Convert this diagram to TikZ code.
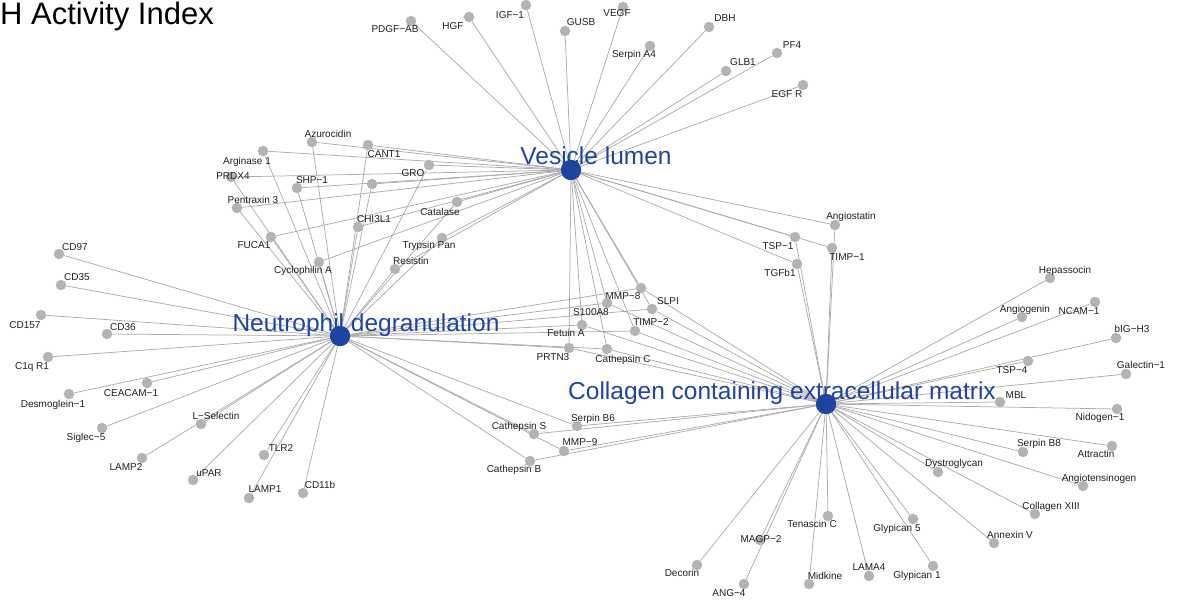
\documentclass[tikz,border=0pt]{standalone}
\usepackage{fontspec}
\setmainfont{Liberation Sans}
\usetikzlibrary{backgrounds}
\definecolor{hubblue}{RGB}{31,68,160}
\definecolor{leafgray}{RGB}{179,179,179}
\definecolor{edgegray}{RGB}{172,172,172}

\begin{document}
\begin{tikzpicture}[x=1pt,y=-1pt,
    hub/.style={circle, fill=hubblue, inner sep=0pt, minimum size=20.5pt},
    leaf/.style={circle, fill=leafgray, inner sep=0pt, minimum size=10.5pt},
    lbl/.style={inner sep=0pt, text=black!88, font=\fontsize{10}{12}\selectfont, text height=7.2pt, text depth=0pt},
    hublbl/.style={inner sep=0pt, text=hubblue, font=\fontsize{24.5}{28}\selectfont, text height=17.5pt, text depth=0pt},
    edge/.style={draw=edgegray, line width=0.75pt}]
      \useasboundingbox (0,0) rectangle (1179,602);

      \node[anchor=base west, inner sep=0pt, font=\fontsize{31}{36}\selectfont] (title) at (0,25) {H Activity Index};

      % the three terms
      \node[hub] (vl) at (571,170) {};
      \node[hub] (nd) at (340,336) {};
      \node[hub] (cc) at (826,404) {};

      % vesicle lumen only
      \node[leaf] (pdgfab) at (411,21) {};  \node[lbl] (pdgfab-l) at (395,29) {PDGF−AB};
      \node[leaf] (hgf) at (469,17) {};     \node[lbl] (hgf-l) at (453,26) {HGF};
      \node[leaf] (igf1) at (526,5) {};     \node[lbl] (igf1-l) at (510,15) {IGF−1};
      \node[leaf] (gusb) at (565,31) {};    \node[lbl] (gusb-l) at (581,22) {GUSB};
      \node[leaf] (vegf) at (623,7) {};     \node[lbl] (vegf-l) at (617,13) {VEGF};
      \node[leaf] (serpa4) at (650,46) {};  \node[lbl] (serpa4-l) at (634,54) {Serpin A4};
      \node[leaf] (dbh) at (709,27) {};     \node[lbl] (dbh-l) at (725,18) {DBH};
      \node[leaf] (glb1) at (726,71) {};    \node[lbl] (glb1-l) at (743,62) {GLB1};
      \node[leaf] (pf4) at (777,53) {};     \node[lbl] (pf4-l) at (792,45) {PF4};
      \node[leaf] (egfr) at (803,85) {};    \node[lbl] (egfr-l) at (787,94) {EGF R};

      % vesicle lumen + neutrophil
      \node[leaf] (arg1) at (263,151) {};   \node[lbl] (arg1-l) at (247,161) {Arginase 1};
      \node[leaf] (prdx4) at (231,177) {};  \node[lbl] (prdx4-l) at (233,176) {PRDX4};
      \node[leaf] (shp1) at (297,188) {};   \node[lbl] (shp1-l) at (312,180) {SHP−1};
      \node[leaf] (unl) at (372,184) {};
      \node[leaf] (ptx3) at (237,208) {};   \node[lbl] (ptx3-l) at (253,200) {Pentraxin 3};
      \node[leaf] (azu) at (312,142) {};    \node[lbl] (azu-l) at (328,134) {Azurocidin};
      \node[leaf] (cant1) at (368,145) {};  \node[lbl] (cant1-l) at (384,154) {CANT1};
      \node[leaf] (gro) at (429,165) {};    \node[lbl] (gro-l) at (413,173) {GRO};
      \node[leaf] (cat) at (457,202) {};    \node[lbl] (cat-l) at (440,212) {Catalase};
      \node[leaf] (chi3l1) at (358,227) {}; \node[lbl] (chi3l1-l) at (374,219) {CHI3L1};
      \node[leaf] (tryp) at (442,238) {};   \node[lbl] (tryp-l) at (429,245) {Trypsin Pan};
      \node[leaf] (fuca1) at (271,237) {};  \node[lbl] (fuca1-l) at (254,245) {FUCA1};
      \node[leaf] (cyca) at (319,262) {};   \node[lbl] (cyca-l) at (303,270) {Cyclophilin A};
      \node[leaf] (resist) at (395,269) {}; \node[lbl] (resist-l) at (411,261) {Resistin};

      % neutrophil only
      \node[leaf] (cd97) at (59,254) {};    \node[lbl] (cd97-l) at (75,247) {CD97};
      \node[leaf] (cd35) at (61,285) {};    \node[lbl] (cd35-l) at (77,277) {CD35};
      \node[leaf] (cd157) at (41,315) {};   \node[lbl] (cd157-l) at (25,325) {CD157};
      \node[leaf] (cd36) at (107,334) {};   \node[lbl] (cd36-l) at (123,327) {CD36};
      \node[leaf] (c1qr1) at (48,357) {};   \node[lbl] (c1qr1-l) at (32,366) {C1q R1};
      \node[leaf] (ceacam) at (147,383) {}; \node[lbl] (ceacam-l) at (131,393) {CEACAM−1};
      \node[leaf] (dsg1) at (69,394) {};    \node[lbl] (dsg1-l) at (53,404) {Desmoglein−1};
      \node[leaf] (siglec) at (102,428) {}; \node[lbl] (siglec-l) at (86,437) {Siglec−5};
      \node[leaf] (lsel) at (201,424) {};   \node[lbl] (lsel-l) at (216,416) {L−Selectin};
      \node[leaf] (lamp2) at (142,458) {};  \node[lbl] (lamp2-l) at (126,467) {LAMP2};
      \node[leaf] (upar) at (193,480) {};   \node[lbl] (upar-l) at (209,473) {uPAR};
      \node[leaf] (tlr2) at (264,455) {};   \node[lbl] (tlr2-l) at (281,448) {TLR2};
      \node[leaf] (lamp1) at (249,498) {};  \node[lbl] (lamp1-l) at (265,489) {LAMP1};
      \node[leaf] (cd11b) at (303,493) {};  \node[lbl] (cd11b-l) at (320,485) {CD11b};

      % all three terms
      \node[leaf] (mmp8) at (641,288) {};   \node[lbl] (mmp8-l) at (623,296) {MMP−8};
      \node[leaf] (slpi) at (652,309) {};   \node[lbl] (slpi-l) at (668,301) {SLPI};
      \node[leaf] (s100a8) at (607,303) {}; \node[lbl] (s100a8-l) at (591,312) {S100A8};
      \node[leaf] (fetua) at (582,325) {};  \node[lbl] (fetua-l) at (566,333) {Fetuin A};
      \node[leaf] (timp2) at (635,331) {};  \node[lbl] (timp2-l) at (651,322) {TIMP−2};
      \node[leaf] (prtn3) at (569,348) {};  \node[lbl] (prtn3-l) at (553,357) {PRTN3};
      \node[leaf] (cathc) at (607,349) {};  \node[lbl] (cathc-l) at (623,359) {Cathepsin C};

      % neutrophil + collagen
      \node[leaf] (caths) at (534,434) {};  \node[lbl] (caths-l) at (519,426) {Cathepsin S};
      \node[leaf] (serpb6) at (577,426) {}; \node[lbl] (serpb6-l) at (593,418) {Serpin B6};
      \node[leaf] (mmp9) at (564,451) {};   \node[lbl] (mmp9-l) at (580,442) {MMP−9};
      \node[leaf] (cathb) at (530,461) {};  \node[lbl] (cathb-l) at (514,469) {Cathepsin B};

      % vesicle lumen + collagen
      \node[leaf] (angst) at (835,225) {};  \node[lbl] (angst-l) at (851,216) {Angiostatin};
      \node[leaf] (tsp1) at (795,237) {};   \node[lbl] (tsp1-l) at (778,246) {TSP−1};
      \node[leaf] (timp1) at (832,248) {};  \node[lbl] (timp1-l) at (847,257) {TIMP−1};
      \node[leaf] (tgfb1) at (797,264) {};  \node[lbl] (tgfb1-l) at (780,273) {TGFb1};

      % collagen only
      \node[leaf] (hepas) at (1050,278) {}; \node[lbl] (hepas-l) at (1065,270) {Hepassocin};
      \node[leaf] (angio) at (1022,317) {}; \node[lbl] (angio-l) at (1025,309) {Angiogenin};
      \node[leaf] (ncam1) at (1095,302) {}; \node[lbl] (ncam1-l) at (1079,311) {NCAM−1};
      \node[leaf] (bigh3) at (1116,338) {}; \node[lbl] (bigh3-l) at (1132,329) {bIG−H3};
      \node[leaf] (tsp4) at (1028,361) {};  \node[lbl] (tsp4-l) at (1012,370) {TSP−4};
      \node[leaf] (gal1) at (1126,374) {};  \node[lbl] (gal1-l) at (1141,365) {Galectin−1};
      \node[leaf] (mbl) at (1000,402) {};   \node[lbl] (mbl-l) at (1016,395) {MBL};
      \node[leaf] (nid1) at (1117,409) {};  \node[lbl] (nid1-l) at (1100,417) {Nidogen−1};
      \node[leaf] (attr) at (1112,446) {};  \node[lbl] (attr-l) at (1096,454) {Attractin};
      \node[leaf] (serpb8) at (1023,452) {};\node[lbl] (serpb8-l) at (1039,443) {Serpin B8};
      \node[leaf] (dag1) at (938,472) {};   \node[lbl] (dag1-l) at (954,463) {Dystroglycan};
      \node[leaf] (agt) at (1083,486) {};   \node[lbl] (agt-l) at (1099,478) {Angiotensinogen};
      \node[leaf] (col13) at (1035,514) {}; \node[lbl] (col13-l) at (1051,506) {Collagen XIII};
      \node[leaf] (anxa5) at (994,543) {};  \node[lbl] (anxa5-l) at (1010,535) {Annexin V};
      \node[leaf] (gpc5) at (913,519) {};   \node[lbl] (gpc5-l) at (897,528) {Glypican 5};
      \node[leaf] (gpc1) at (933,566) {};   \node[lbl] (gpc1-l) at (917,575) {Glypican 1};
      \node[leaf] (lama4) at (869,576) {};  \node[lbl] (lama4-l) at (869,567) {LAMA4};
      \node[leaf] (mdk) at (809,584) {};    \node[lbl] (mdk-l) at (825,576) {Midkine};
      \node[leaf] (tnc) at (828,516) {};    \node[lbl] (tnc-l) at (812,524) {Tenascin C};
      \node[leaf] (magp2) at (760,540) {};  \node[lbl] (magp2-l) at (761,539) {MAGP−2};
      \node[leaf] (decorin) at (697,565) {};\node[lbl] (decorin-l) at (682,573) {Decorin};
      \node[leaf] (ang4) at (744,584) {};   \node[lbl] (ang4-l) at (729,593) {ANG−4};

      % term labels
      \node[hublbl] (vl-l) at (596,156) {Vesicle lumen};
      \node[hublbl] (nd-l) at (366,323) {Neutrophil degranulation};
      \node[hublbl] (cc-l) at (782,391) {Collagen containing extracellular matrix};

      % links
      \begin{scope}[on background layer]
        \foreach \n in {pdgfab,hgf,igf1,gusb,vegf,serpa4,dbh,glb1,pf4,egfr,
                        arg1,prdx4,shp1,unl,ptx3,azu,cant1,gro,cat,chi3l1,tryp,fuca1,cyca,resist,
                        mmp8,slpi,s100a8,fetua,timp2,prtn3,cathc,angst,tsp1,timp1,tgfb1}
          \draw[edge] (vl) -- (\n);
        \foreach \n in {cd97,cd35,cd157,cd36,c1qr1,ceacam,dsg1,siglec,lsel,lamp2,upar,tlr2,lamp1,cd11b,
                        arg1,prdx4,shp1,unl,ptx3,azu,cant1,gro,cat,chi3l1,tryp,fuca1,cyca,resist,
                        mmp8,slpi,s100a8,fetua,timp2,prtn3,cathc,caths,serpb6,mmp9,cathb}
          \draw[edge] (nd) -- (\n);
        \foreach \n in {hepas,angio,ncam1,bigh3,tsp4,gal1,mbl,nid1,attr,serpb8,dag1,agt,col13,anxa5,
                        gpc5,gpc1,lama4,mdk,tnc,magp2,decorin,ang4,
                        mmp8,slpi,s100a8,fetua,timp2,prtn3,cathc,caths,serpb6,mmp9,cathb,
                        angst,tsp1,timp1,tgfb1}
          \draw[edge] (cc) -- (\n);
      \end{scope}

\end{tikzpicture}
\end{document}
